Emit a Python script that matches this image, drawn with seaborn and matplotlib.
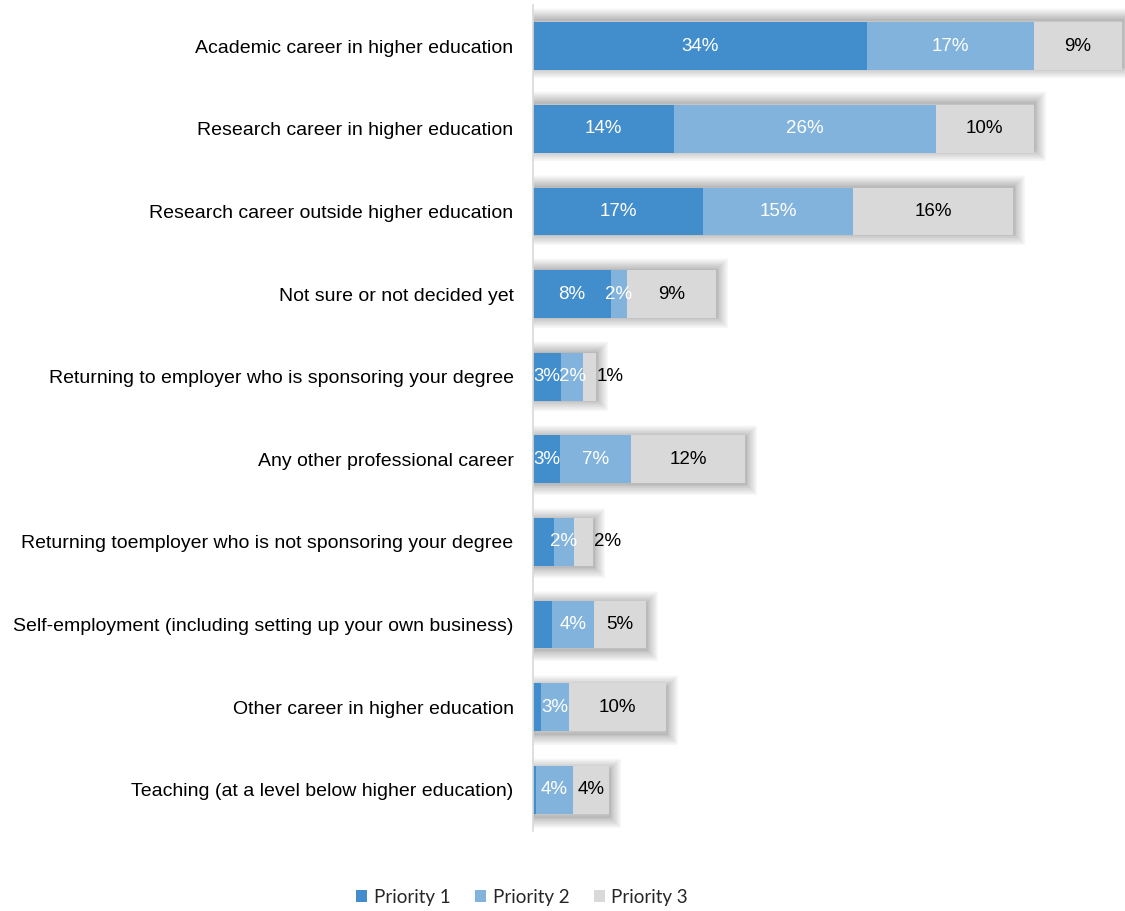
import numpy as np
import pandas as pd
import matplotlib
matplotlib.use("Agg")
import matplotlib.pyplot as plt
import matplotlib.patheffects as pe
from matplotlib.patches import Patch
import seaborn as sns

categories = [
    "Academic career in higher education",
    "Research career in higher education",
    "Research career outside higher education",
    "Not sure or not decided yet",
    "Returning to employer who is sponsoring your degree",
    "Any other professional career",
    "Returning toemployer who is not sponsoring your degree",
    "Self-employment (including setting up your own business)",
    "Other career in higher education",
    "Teaching (at a level below higher education)",
]
priority1 = [34.0, 14.4, 17.3, 7.9, 2.9, 2.8, 2.1, 1.9, 0.8, 0.3]
priority2 = [17.0, 26.6, 15.3, 1.7, 2.2, 7.2, 2.1, 4.3, 2.9, 3.8]
priority3 = [9.0, 10.0, 16.3, 9.0, 1.3, 11.6, 1.9, 5.3, 9.8, 3.6]
labels1 = ["34%", "14%", "17%", "8%", "3%", "3%", "", "", "", ""]
labels2 = ["17%", "26%", "15%", "2%", "2%", "7%", "2%", "4%", "3%", "4%"]
labels3 = ["9%", "10%", "16%", "9%", "1%", "12%", "2%", "5%", "10%", "4%"]
series_names = ["Priority 1", "Priority 2", "Priority 3"]
colors = ["#428DCB", "#82B3DC", "#D9D9D9"]

sns.set_style("white")
FAM = ["Liberation Sans", "DejaVu Sans"]
plt.rcParams["font.family"] = FAM

df = pd.DataFrame({"cat": categories, "p1": priority1, "p2": priority2, "p3": priority3})
df["c1"] = df["p1"]
df["c2"] = df["p1"] + df["p2"]
df["c3"] = df["c2"] + df["p3"]

fig = plt.figure(figsize=(11.25, 9.11), dpi=100)
ax = fig.add_axes([533 / 1125, 1 - 831 / 911, 592 / 1125, 826 / 911])

bw = 0.58
sns.barplot(data=df, y="cat", x="c3", color=colors[2], width=bw, ax=ax,
            saturation=1, edgecolor="none", orient="h")
n = len(categories)
for i, p in enumerate(ax.patches):
    oy = 2.5 * (1 - 2 * i / (n - 1))
    effects = [pe.Stroke(linewidth=w, foreground="#000000", alpha=0.016,
                         offset=(1.0, oy))
               for w in range(16, 0, -1)]
    p.set_path_effects(effects + [pe.Normal()])
sns.barplot(data=df, y="cat", x="c2", color=colors[1], width=bw, ax=ax,
            saturation=1, edgecolor="none", orient="h")
sns.barplot(data=df, y="cat", x="c1", color=colors[0], width=bw, ax=ax,
            saturation=1, edgecolor="none", orient="h")

fs = 13.5
for i in range(n):
    s1, s2, s3 = df.loc[i, "p1"], df.loc[i, "p2"], df.loc[i, "p3"]
    c1, c2, c3 = df.loc[i, "c1"], df.loc[i, "c2"], df.loc[i, "c3"]
    if labels1[i]:
        ax.text(c1 / 2, i, labels1[i], ha="center", va="center", color="white",
                fontsize=fs, family=FAM)
    if labels2[i]:
        ax.text(c1 + s2 / 2, i, labels2[i], ha="center", va="center", color="white",
                fontsize=fs, family=FAM)
    if labels3[i]:
        if s3 < 2.5:
            ax.text(c3 + 0.1, i, labels3[i], ha="left", va="center", color="black",
                    fontsize=fs, family=FAM)
        else:
            ax.text(c2 + s3 / 2, i, labels3[i], ha="center", va="center", color="black",
                    fontsize=fs, family=FAM)

ax.set_xlim(0, 60.3)
ax.set_ylim(9.5, -0.5)
ax.set_xlabel("")
ax.set_ylabel("")
ax.set_xticks([])
ax.tick_params(axis="y", length=0, pad=14, labelsize=14, labelcolor="black")
for lab in ax.get_yticklabels():
    lab.set_family(FAM)
for side in ["top", "right", "bottom"]:
    ax.spines[side].set_visible(False)
ax.spines["left"].set_color("#D9D9D9")
ax.spines["left"].set_linewidth(1.2)

handles = [Patch(facecolor=c, edgecolor="none") for c in colors]
fig.legend(handles, series_names, loc="center", bbox_to_anchor=(522 / 1125, 1 - 897 / 911),
           ncol=3, frameon=False, prop={"family": "Lato", "size": 13.5},
           handlelength=0.6, handleheight=0.6, handletextpad=0.35, columnspacing=1.3)

fig.savefig("out.png", dpi=100)
